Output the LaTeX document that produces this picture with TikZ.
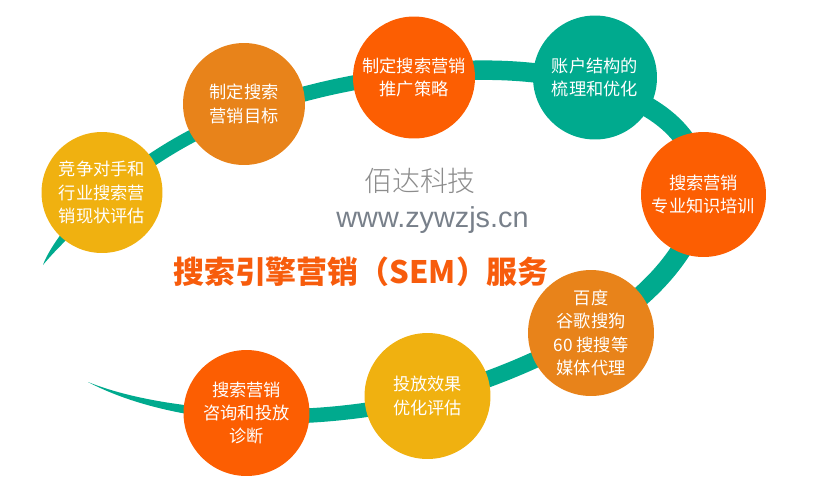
\documentclass[tikz,border=0pt]{standalone}
\usepackage{fontspec}
\setmainfont{Noto Sans CJK SC}
\newfontfamily\urlfont{Liberation Sans}
\IfFontExistsTF{Noto Sans CJK SC Light}{\newfontfamily\brandfont{Noto Sans CJK SC Light}}{\newfontfamily\brandfont{Noto Sans CJK SC}}
\definecolor{bandc}{HTML}{00AA8E}
\definecolor{yelc}{HTML}{F0B110}
\definecolor{orgc}{HTML}{E8831A}
\definecolor{redc}{HTML}{FC5E02}
\definecolor{titlec}{HTML}{F75C0C}
\definecolor{grayc}{HTML}{8C8C8C}
\definecolor{urlc}{HTML}{78808A}
\begin{document}
\begin{tikzpicture}[x=0.02cm,y=-0.02cm]
\useasboundingbox (0,0) rectangle (815,488);
\tikzset{
  band/.style={draw=bandc, line cap=butt},
  disc/.style={circle, minimum size=2.48cm, inner sep=0pt, text=white, align=center,
    font=\fontsize{9.8pt}{13.2pt}\selectfont},
}
% band waypoints
\coordinate (t0) at (43,265);
\coordinate (w1) at (100,200);
\coordinate (w2) at (244,113);
\coordinate (w3) at (414,74);
\coordinate (w4) at (592,84);
\coordinate (w5) at (703,195);
\coordinate (w6) at (590,332);
\coordinate (w7) at (427,398);
\coordinate (w8) at (246,416);
\coordinate (t9) at (88,382);
% tapered tails
\fill[bandc] (t0) .. controls (50,245) and (77,212) .. (95.7,195.1)
  -- (104.3,204.9) .. controls (85,221) and (55,250) .. (t0) -- cycle;
\fill[bandc] (246,410) .. controls (190,408) and (130,399) .. (t9)
  .. controls (130,404) and (185,417) .. (246,421) -- cycle;
% band segments
\draw[band, line width=0.26cm] (w1) .. controls (142,163) and (191,132) .. (w2);
\draw[band, line width=0.30cm] (w2) .. controls (298,93) and (356,80) .. (w3);
\draw[band, line width=0.39cm] (w3) .. controls (473,68) and (535,67.5) .. (w4);
\draw[band, line width=0.40cm] (w4) .. controls (650,101) and (700,130) .. (w5);
\draw[band, line width=0.40cm] (w5) .. controls (694,253) and (641,304) .. (w6);
\draw[band, line width=0.33cm] (w6) .. controls (540,360) and (483,384) .. (w7);
\draw[band, line width=0.29cm] (w7) .. controls (369,412.5) and (306,418.4) .. (w8);
% circles
\node[disc, fill=yelc, minimum size=2.42cm] (c1) at (102,192.5) {竞争对手和\\行业搜索营\\销现状评估};
\node[disc, fill=orgc, minimum size=2.44cm] (c2) at (244,104) {制定搜索\\营销目标};
\node[disc, fill=redc, minimum size=2.44cm] (c3) at (414,77.5) {制定搜索营销\\推广策略};
\node[disc, fill=bandc] (c4) at (595,77.5) {账户结构的\\梳理和优化};
\node[disc, fill=redc, minimum size=2.50cm] (c5) at (703.5,194.5) {搜索营销\\专业知识培训};
\node[disc, fill=orgc, minimum size=2.52cm] (c6) at (591,333) {百度\\谷歌搜狗\\60 搜搜等\\媒体代理};
\node[disc, fill=yelc, minimum size=2.52cm] (c7) at (427.5,396) {投放效果\\优化评估};
\node[disc, fill=redc, minimum size=2.52cm] (c8) at (246.5,413) {搜索营销\\咨询和投放\\诊断};
% texts
\node[text=grayc, font=\brandfont\fontsize{15.9pt}{18pt}\selectfont, inner sep=0pt] (brand) at (420,180.5) {佰达科技};
\node[text=urlc, font=\urlfont\fontsize{16.4pt}{18pt}\selectfont, inner sep=0pt, anchor=base] (url) at (432.5,227) {www.zywzjs.cn};
\node[text=titlec, font=\fontsize{17.6pt}{20pt}\selectfont\bfseries, inner sep=0pt] (title) at (361,272) {搜索引擎营销（SEM）服务};
\end{tikzpicture}
\end{document}
